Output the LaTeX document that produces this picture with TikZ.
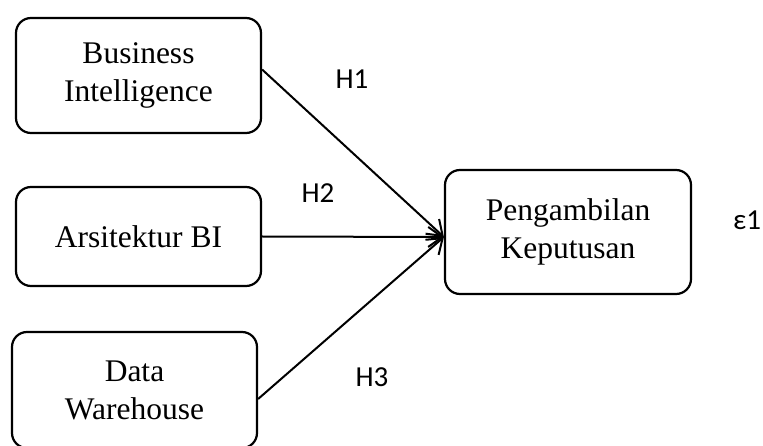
\documentclass[tikz,border=0pt]{standalone}
\usepackage{fontspec}
\setmainfont{Liberation Serif}
\newfontfamily\lblfont{Carlito}
\usetikzlibrary{arrows.meta}
\begin{document}
\begin{tikzpicture}[x=1pt,y=-1pt,
  boxnode/.style={draw, line width=2.2pt, rounded corners=15pt, align=center,
    font=\fontsize{31.5}{38}\selectfont, inner sep=0pt},
  hlabel/.style={font=\lblfont\fontsize{29}{30}\selectfont, inner sep=0pt},
  conn/.style={line width=2pt, -{Straight Barb[length=14pt,width=20pt,line width=2pt]}}]
\useasboundingbox (0,0) rectangle (763,446);
\node[boxnode, minimum width=245pt, minimum height=115pt] (BI) at (138.5,75.5) {Business\\Intelligence};
\node[boxnode, minimum width=245pt, minimum height=99pt] (AR) at (138.5,236.5) {Arsitektur BI};
\node[boxnode, minimum width=245pt, minimum height=116pt] (DW) at (134.5,390) {Data\\Warehouse};
\node[boxnode, minimum width=246pt, minimum height=124pt] (PK) at (568,232) {Pengambilan\\Keputusan};
\coordinate (tip) at ([yshift=-5pt]PK.west);
\coordinate (s1) at ([yshift=6pt]BI.east);
\coordinate (s3) at ([yshift=-9pt]DW.east);
\draw[conn] (s1) -- (tip);
\draw[conn] (AR.east) -- (tip);
\draw[conn] (s3) -- (tip);
\node[hlabel] (h1) at (352,79) {H1};
\node[hlabel] (h2) at (318,193) {H2};
\node[hlabel] (h3) at (372,377) {H3};
\node[hlabel] (e1) at (747,220) {ε1};
\end{tikzpicture}
\end{document}
